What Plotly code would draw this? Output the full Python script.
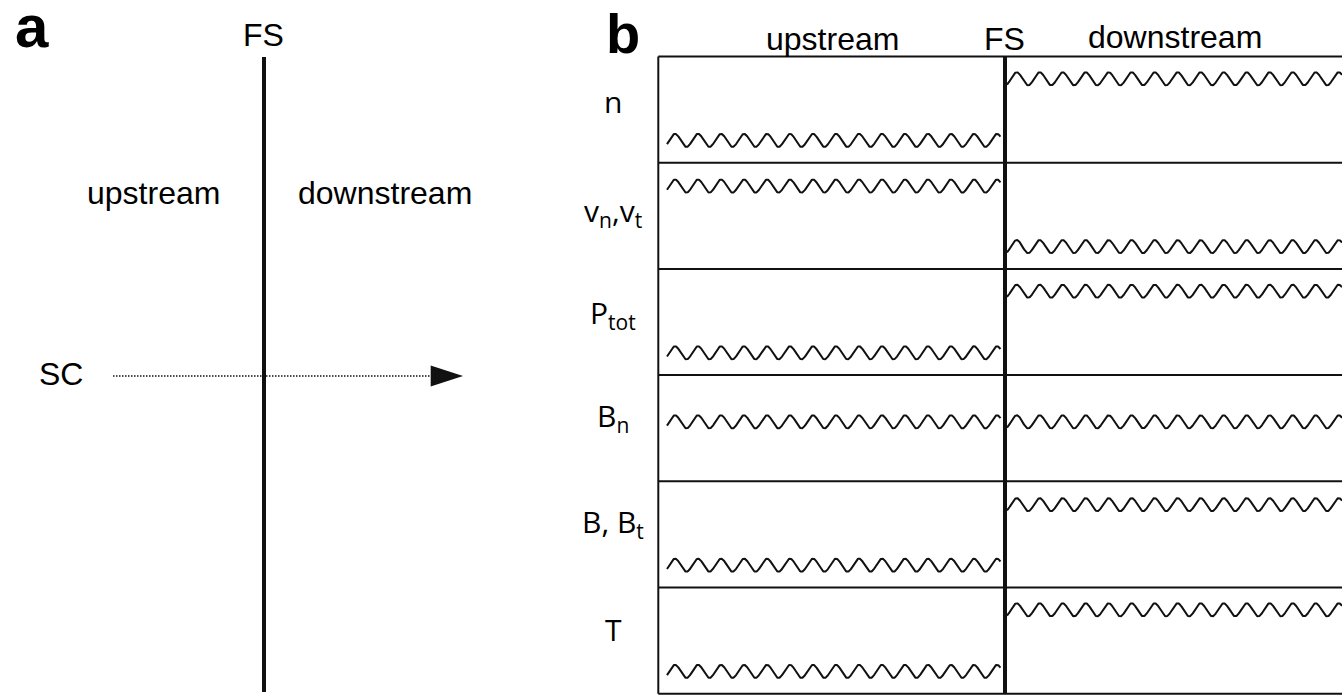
import numpy as np
import plotly.graph_objects as go

W, H = 1342, 696

# ---------------- data ----------------
# panel b: quantities (rows) and the relative level of each quantity
# (0 = top of its row, 1 = bottom of its row) upstream and downstream of the FS
row_labels = ["n", "v<sub>n</sub>,v<sub>t</sub>", "P<sub>tot</sub>",
              "B<sub>n</sub>", "B, B<sub>t</sub>", "T"]
upstream_level = [0.79, 0.22, 0.79, 0.44, 0.79, 0.79]
downstream_level = [0.21, 0.79, 0.21, 0.44, 0.22, 0.21]
region_labels = ["upstream", "downstream"]
boundary_label = "FS"
sc_label = "SC"
panel_labels = ["a", "b"]

# ---------------- style / geometry ----------------
INK = "#111111"
ARIAL = "Liberation Sans, Arial, sans-serif"
SANS = "Open Sans, Noto Sans, sans-serif"

# panel b pixel geometry (x: 0 = left box edge, 1 = FS; y: rows)
BX0, BFS = 658.3, 1005.0
BY0, ROWH = 56.5, 106.2
UX = BFS - BX0
dom_left_px, dom_top_px = 650.0, 50.0
x2_range = [(dom_left_px - BX0) / UX, (W - BX0) / UX]
y2_range = [(H - BY0) / ROWH, (dom_top_px - BY0) / ROWH]

AMP = 6.5 / ROWH          # wave amplitude (row units)
PERIOD = 23.0 / UX        # wave period (x units)
label_shift_px = [4, 8, 4, 0, 0, 1]   # fine vertical placement of row labels

fig = go.Figure()

# ---------------- panel a (pixel space axes x/y) ----------------
fig.add_trace(go.Scatter(x=[264, 264], y=[57, 692], mode="lines",
                         line=dict(color=INK, width=4), hoverinfo="skip",
                         xaxis="x", yaxis="y"))
fig.add_trace(go.Scatter(x=[113, 448], y=[376, 376], mode="lines",
                         line=dict(color=INK, width=1.5, dash="1.5px,1.5px"),
                         hoverinfo="skip", xaxis="x", yaxis="y"))
fig.add_trace(go.Scatter(x=[463], y=[376], mode="markers",
                         marker=dict(symbol="arrow", angle=90, size=34,
                                     color=INK, line=dict(width=0)),
                         hoverinfo="skip", xaxis="x", yaxis="y"))

def txt(x, y, s, size, font=ARIAL, bold=False, xref="x", yref="y"):
    fig.add_annotation(x=x, y=y, xref=xref, yref=yref, text=s, showarrow=False,
                       xanchor="center", yanchor="middle",
                       font=dict(family=font, size=size, color="#000000",
                                 weight="bold" if bold else "normal"))

txt(31.5, 26, panel_labels[0], 60, bold=True)
txt(263, 35, boundary_label, 32)
txt(153, 193, region_labels[0], 32)
txt(385, 193, region_labels[1], 32)
txt(61, 374, sc_label, 32)

# panel b header texts (pixel axes)
txt(623, 33, panel_labels[1], 56, bold=True)
txt(832, 39, region_labels[0], 32)
txt(1004, 39, boundary_label, 32)
txt(1175, 37, region_labels[1], 32)

# ---------------- panel b (axes x2/y2) ----------------
nrows = len(row_labels)
for i in range(nrows + 1):
    fig.add_shape(type="line", xref="x2", yref="y2", x0=0, x1=x2_range[1] + 0.1,
                  y0=i, y1=i, line=dict(color=INK, width=2))
fig.add_shape(type="line", xref="x2", yref="y2", x0=0, x1=0, y0=0, y1=nrows,
              line=dict(color=INK, width=2))
fig.add_shape(type="line", xref="x2", yref="y2", x0=1, x1=1, y0=0, y1=nrows,
              line=dict(color=INK, width=4))

xu = np.linspace((667 - BX0) / UX, (1000.5 - BX0) / UX, 800)
xu_peak = (675 - BX0) / UX
xd = np.linspace((1007 - BX0) / UX, x2_range[1], 900)
xd_peak = (1016.7 - BX0) / UX

for i, lab in enumerate(row_labels):
    yu = i + upstream_level[i] - AMP * np.cos(2 * np.pi * (xu - xu_peak) / PERIOD)
    yd = i + downstream_level[i] - AMP * np.cos(2 * np.pi * (xd - xd_peak) / PERIOD)
    fig.add_trace(go.Scatter(x=xu, y=yu, mode="lines", line=dict(color=INK, width=2),
                             hoverinfo="skip", xaxis="x2", yaxis="y2"))
    fig.add_trace(go.Scatter(x=xd, y=yd, mode="lines", line=dict(color=INK, width=2),
                             hoverinfo="skip", xaxis="x2", yaxis="y2"))
    txt(613 / W, i + 0.39 + label_shift_px[i] / ROWH, lab, 30, font=SANS,
        xref="paper", yref="y2")

hidden = dict(visible=False, showgrid=False, zeroline=False, showticklabels=False)
fig.update_layout(
    width=W, height=H, margin=dict(l=0, r=0, t=0, b=0, pad=0),
    paper_bgcolor="white", plot_bgcolor="rgba(0,0,0,0)", showlegend=False,
    xaxis=dict(range=[0, W], domain=[0, 1], **hidden),
    yaxis=dict(range=[H, 0], domain=[0, 1], **hidden),
    xaxis2=dict(range=x2_range, domain=[dom_left_px / W, 1], anchor="y2", **hidden),
    yaxis2=dict(range=y2_range, domain=[0, 1 - dom_top_px / H], anchor="x2", **hidden),
)

fig.write_html("out.html", config={"displayModeBar": False},
               post_script="document.body.style.margin='0';document.body.style.overflow='hidden';")
